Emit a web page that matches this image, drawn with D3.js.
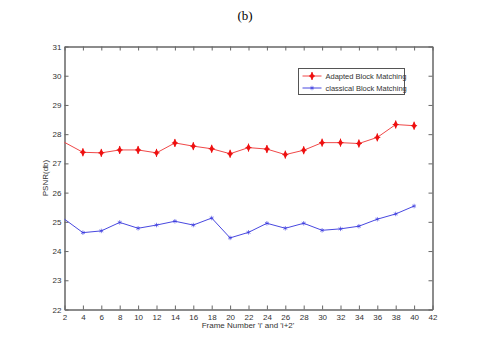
<!DOCTYPE html>
<html>
<head>
<meta charset="utf-8">
<script src="https://cdn.jsdelivr.net/npm/d3@7"></script>
<style>
	body { margin: 0; background: #fff; }
	svg { display: block; }
</style>
</head>
<body>
<div id="chart"></div>
<script>

	let frames = [2, 4, 6, 8, 10, 12, 14, 16, 18, 20, 22, 24, 26, 28, 30, 32, 34, 36, 38, 40];
	let adapted = [27.72, 27.38, 27.36, 27.46, 27.46, 27.36, 27.70, 27.59, 27.50, 27.33,
		27.54, 27.49, 27.30, 27.45, 27.71, 27.71, 27.68, 27.89, 28.33, 28.29];
	let classical = [25.09, 24.63, 24.69, 24.98, 24.78, 24.89, 25.02, 24.89, 25.13, 24.45,
		24.64, 24.95, 24.78, 24.95, 24.71, 24.76, 24.85, 25.09, 25.27, 25.54];
	let xTicks = d3.range(2, 43, 2);
	let yTicks = d3.range(22, 32, 1);
	let seriesNames = ["Adapted Block Matching", "classical Block Matching"];

	let width = 480;
	let height = 348;
	let plotLeft = 64.5, plotRight = 432.5, plotTop = 46.5, plotBottom = 309.5;

	let svg = d3.select('#chart')
		.append('svg')
		.attr('width', width)
		.attr('height', height);

	let x = d3.scaleLinear().domain([2, 42]).range([plotLeft, plotRight]);
	let y = d3.scaleLinear().domain([22, 31]).range([plotBottom, plotTop]);

	let axisColor = '#666';
	let font = '"Liberation Sans Narrow", "Liberation Sans", Arial, sans-serif';

	// Title
	svg.append('text')
		.attr('x', 245)
		.attr('y', 20)
		.attr('text-anchor', 'middle')
		.style('font-family', '"Liberation Serif", "Times New Roman", serif')
		.style('font-size', '13px')
		.text('(b)');

	// Axes (inward ticks on all sides)
	let bottomAxis = svg.append('g')
		.attr('transform', `translate(0, ${plotBottom})`)
		.call(d3.axisBottom(x).tickValues(xTicks).tickSizeInner(-4).tickSizeOuter(0).tickPadding(5));
	svg.append('g')
		.attr('transform', `translate(0, ${plotTop})`)
		.call(d3.axisTop(x).tickValues(xTicks).tickSizeInner(-4).tickSizeOuter(0).tickFormat(''));
	let leftAxis = svg.append('g')
		.attr('transform', `translate(${plotLeft}, 0)`)
		.call(d3.axisLeft(y).tickValues(yTicks).tickSizeInner(-4).tickSizeOuter(0).tickPadding(3));
	svg.append('g')
		.attr('transform', `translate(${plotRight}, 0)`)
		.call(d3.axisRight(y).tickValues(yTicks).tickSizeInner(-4).tickSizeOuter(0).tickFormat(''));

	svg.selectAll('.domain').attr('stroke', axisColor).attr('stroke-width', 1.5);
	svg.selectAll('.tick line').attr('stroke', axisColor);
	svg.selectAll('.tick text')
		.attr('fill', '#333')
		.style('font-family', font)
		.style('font-size', '8px');

	// Axis labels
	svg.append('text')
		.attr('x', 248)
		.attr('y', 328)
		.attr('text-anchor', 'middle')
		.attr('fill', '#333')
		.style('font-family', font)
		.style('font-size', '8px')
		.text("Frame Number 'i' and 'i+2'");

	svg.append('text')
		.attr('transform', `translate(48, ${(plotTop + plotBottom) / 2}) rotate(-90)`)
		.attr('text-anchor', 'middle')
		.attr('fill', '#333')
		.style('font-family', font)
		.style('font-size', '8px')
		.text('PSNR(db)');

	let line = d3.line()
		.x((d, i) => x(frames[i]))
		.y(d => y(d));

	let redColor = '#ee1111';
	let blueColor = '#3333dd';

	// Lines
	svg.append('path')
		.datum(adapted)
		.attr('d', line)
		.attr('fill', 'none')
		.attr('stroke', '#f04848')
		.attr('stroke-width', 1);

	svg.append('path')
		.datum(classical)
		.attr('d', line)
		.attr('fill', 'none')
		.attr('stroke', '#4848e0')
		.attr('stroke-width', 1);

	let diamond = d3.symbol().type(d3.symbolDiamond).size(18);
	let star = d3.symbol().type(d3.symbolAsterisk).size(14);

	function redMarker(g) {
		g.append('path').attr('d', diamond).attr('fill', redColor);
		g.append('line').attr('x1', 0).attr('x2', 0).attr('y1', -4).attr('y2', 4)
			.attr('stroke', redColor).attr('stroke-width', 1);
		g.append('line').attr('x1', -3).attr('x2', 3).attr('y1', 0).attr('y2', 0)
			.attr('stroke', redColor).attr('stroke-width', 1);
	}

	function blueMarker(g) {
		g.append('path').attr('d', star).attr('fill', blueColor)
			.attr('stroke', blueColor).attr('stroke-width', 0.6);
	}

	// Markers (first point sits on the axis and is hidden there)
	svg.selectAll('.red-pt')
		.data(adapted.slice(1))
		.enter()
		.append('g')
		.attr('class', 'red-pt')
		.attr('transform', (d, i) => `translate(${x(frames[i + 1])}, ${y(d)})`)
		.each(function () { redMarker(d3.select(this)); });

	svg.selectAll('.blue-pt')
		.data(classical.slice(1))
		.enter()
		.append('g')
		.attr('class', 'blue-pt')
		.attr('transform', (d, i) => `translate(${x(frames[i + 1])}, ${y(d)})`)
		.each(function () { blueMarker(d3.select(this)); });

	// Legend
	let legend = svg.append('g').attr('transform', 'translate(298.5, 68.5)');
	legend.append('rect')
		.attr('width', 106)
		.attr('height', 26)
		.attr('fill', '#fff')
		.attr('stroke', '#555')
		.attr('stroke-width', 1);

	let legendColors = [['#f04848', redMarker], ['#4848e0', blueMarker]];
	seriesNames.forEach(function (name, i) {
		let row = legend.append('g').attr('transform', `translate(0, ${7.5 + i * 12})`);
		row.append('line')
			.attr('x1', 4).attr('x2', 23).attr('y1', 0).attr('y2', 0)
			.attr('stroke', legendColors[i][0]);
		legendColors[i][1](row.append('g').attr('transform', 'translate(13.5, 0)'));
		row.append('text')
			.attr('x', 27)
			.attr('y', 0)
			.attr('dy', '0.35em')
			.attr('fill', '#333')
			.style('font-family', font)
			.style('font-size', '7.5px')
			.text(name);
	});

</script>
</body>
</html>
